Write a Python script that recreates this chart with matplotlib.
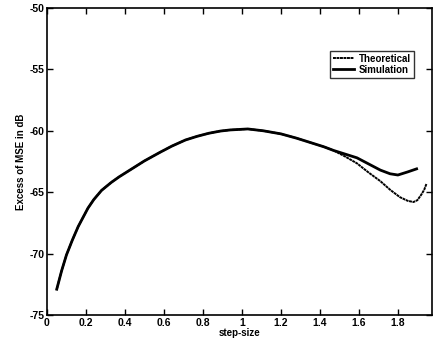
import matplotlib.pyplot as plt

plt.rcParams['font.family'] = ['Liberation Sans', 'DejaVu Sans']
plt.rcParams['axes.unicode_minus'] = False

# shared part (both curves overlap)
step_common = [0.05, 0.075, 0.10, 0.13, 0.16, 0.19, 0.21, 0.24, 0.28, 0.33, 0.37, 0.42,
               0.46, 0.50, 0.54, 0.58, 0.64, 0.71, 0.77, 0.83, 0.89, 0.94,
               1.03, 1.11, 1.20, 1.28, 1.35, 1.42, 1.47]
mse_common = [-72.9, -71.4, -70.1, -68.9, -67.8, -66.9, -66.3, -65.6, -64.85, -64.2,
              -63.75, -63.25, -62.85, -62.45, -62.1, -61.75, -61.25, -60.75, -60.45,
              -60.2, -60.02, -59.93, -59.85, -60.0, -60.25, -60.6, -60.95, -61.3, -61.6]

# theoretical branch after split
step_theo = [1.53, 1.59, 1.65, 1.71, 1.76, 1.81, 1.85, 1.88, 1.90, 1.92, 1.935, 1.947]
mse_theo = [-62.1, -62.65, -63.4, -64.1, -64.8, -65.4, -65.7, -65.8, -65.65, -65.2,
            -64.8, -64.3]

# simulation branch after split
step_sim = [1.53, 1.59, 1.65, 1.71, 1.76, 1.80, 1.85, 1.896]
mse_sim = [-61.9, -62.2, -62.7, -63.2, -63.5, -63.6, -63.35, -63.1]

fig = plt.figure(figsize=(4.33, 3.45), dpi=100)
ax = fig.add_axes([47 / 433, 30 / 345, 385 / 433, 307 / 345])

ax.plot(step_common + step_theo, mse_common + mse_theo, color='black',
        linestyle=(0, (1.5, 0.3)), linewidth=1.4, label='Theoretical')
ax.plot(step_common + step_sim, mse_common + mse_sim, color='black',
        linewidth=2.0, label='Simulation')

ax.set_xlim(0, 1.975)
ax.set_ylim(-75, -50)
ax.set_xticks([0, 0.2, 0.4, 0.6, 0.8, 1, 1.2, 1.4, 1.6, 1.8])
ax.set_xticklabels(['0', '0.2', '0.4', '0.6', '0.8', '1', '1.2', '1.4', '1.6', '1.8'])
ax.set_yticks([-75, -70, -65, -60, -55, -50])
ax.tick_params(direction='in', top=True, right=True, length=4, width=1,
               labelsize=7.5, pad=2)
for lbl in ax.get_xticklabels() + ax.get_yticklabels():
    lbl.set_fontweight('bold')
for s in ax.spines.values():
    s.set_linewidth(1.2)

ax.set_xlabel('step-size', fontsize=7, fontweight='bold', labelpad=0)
ax.set_ylabel('Excess of MSE in dB', fontsize=7, fontweight='bold', labelpad=2)

leg = ax.legend(loc='upper left', bbox_to_anchor=(0.735, 0.86),
                prop={'weight': 'bold', 'size': 7}, frameon=True, fancybox=False,
                edgecolor='black', borderpad=0.3, handlelength=2.2,
                handletextpad=0.5, labelspacing=0.1, borderaxespad=0)
leg.get_frame().set_linewidth(1.0)

fig.savefig('out.png', dpi=100)
